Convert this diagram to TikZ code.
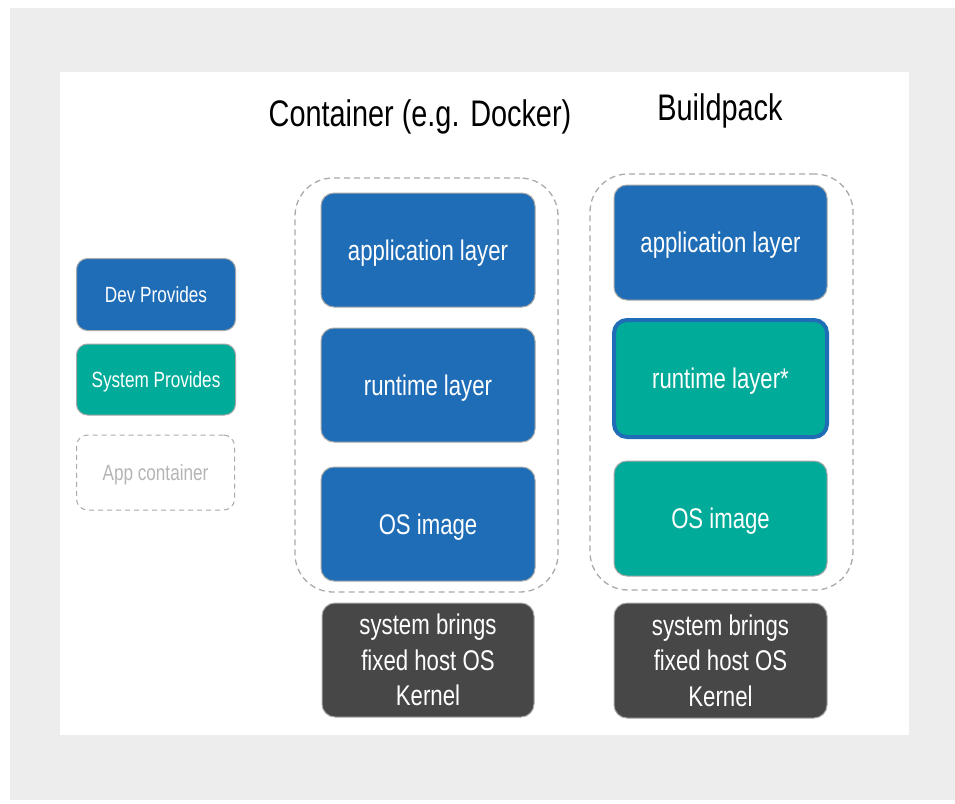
\documentclass[tikz,border=0pt]{standalone}
\usepackage{fontspec}
\setmainfont{Liberation Sans}[FakeStretch=0.78]
\definecolor{bgray}{HTML}{EDEDED}
\definecolor{devblue}{HTML}{1F6DB6}
\definecolor{sysgreen}{HTML}{00AC99}
\definecolor{kernelgray}{HTML}{474747}
\definecolor{dashgray}{HTML}{AAAAAA}
\definecolor{edgegray}{HTML}{A8A8A8}
\definecolor{apptext}{HTML}{B5B5B5}
\begin{document}
\begin{tikzpicture}[x=1pt,y=-1pt,
  layer/.style={draw=edgegray, line width=1pt, rounded corners=13pt, text=white, font=\fontsize{28.4}{30}\selectfont, align=center},
  devbox/.style={layer, fill=devblue, text depth=0pt},
  sysbox/.style={layer, fill=sysgreen, text depth=0pt},
  kernbox/.style={layer, fill=kernelgray, font=\fontsize{28.5}{35.5}\selectfont},
  legbox/.style={draw=edgegray, line width=1pt, rounded corners=11pt, text=white, text depth=0pt, font=\fontsize{22}{25}\selectfont},
  contbox/.style={draw=dashgray, line width=1.3pt, dash pattern=on 6pt off 4pt, rounded corners=38pt},
  title/.style={font=\fontsize{37}{42}\selectfont, text=black}
]
\useasboundingbox (0,0) rectangle (955,803);
\fill[bgray] (10,8) rectangle (955,800);
\fill[white] (60,72) rectangle (909,735);

% titles
\node[title] (t1) at (420,117) {Container (e.g. Docker)};
\node[title] (t2) at (720,111) {Buildpack};

% legend
\node[legbox, fill=devblue, minimum width=159pt, minimum height=72pt] (ldev) at (156,294.5) {Dev Provides};
\node[legbox, fill=sysgreen, minimum width=159pt, minimum height=71pt] (lsys) at (156,379.5) {System Provides};
\node[legbox, draw=dashgray, dash pattern=on 5pt off 4pt, text=apptext, minimum width=158pt, minimum height=75pt] (lapp) at (155.5,472.5) {App container};

% container column
\node[contbox, minimum width=263pt, minimum height=414pt] (c1) at (426.5,385) {};
\node[devbox, minimum width=214pt, minimum height=114pt] (a1) at (428,250) {application layer};
\node[devbox, minimum width=214pt, minimum height=114pt] (r1) at (428,385) {runtime layer};
\node[devbox, minimum width=214pt, minimum height=114pt] (o1) at (428,524) {OS image};
\node[kernbox, minimum width=212pt, minimum height=114pt] (k1) at (428,660) {system brings\\fixed host OS\\Kernel};

% buildpack column
\node[contbox, minimum width=263pt, minimum height=416pt] (c2) at (721.5,382) {};
\node[devbox, minimum width=213pt, minimum height=115pt] (a2) at (720.5,242.5) {application layer};
\node[sysbox, draw=devblue, line width=4pt, minimum width=213pt, minimum height=117pt] (r2) at (720.5,378.5) {runtime layer*};
\node[sysbox, minimum width=213pt, minimum height=115pt] (o2) at (720.5,518.5) {OS image};
\node[kernbox, minimum width=213pt, minimum height=115pt] (k2) at (720.5,660.5) {system brings\\fixed host OS\\Kernel};
\end{tikzpicture}
\end{document}
